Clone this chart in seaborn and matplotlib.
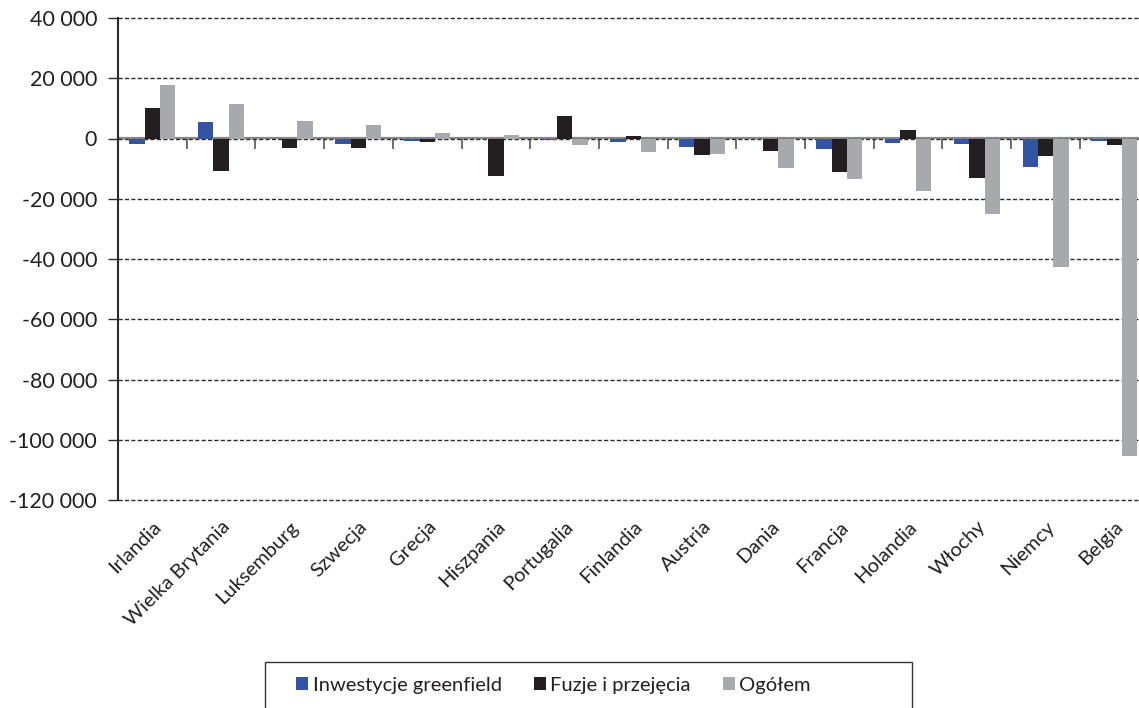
import numpy as np
import pandas as pd
import matplotlib
matplotlib.use("Agg")
import matplotlib.pyplot as plt
from matplotlib.patches import Patch, Rectangle
import seaborn as sns

# Saldo inwestycji w podziale na kraje (mln)
countries = ["Irlandia", "Wielka Brytania", "Luksemburg", "Szwecja", "Grecja",
             "Hiszpania", "Portugalia", "Finlandia", "Austria", "Dania",
             "Francja", "Holandia", "Włochy", "Niemcy", "Belgia"]
greenfield = [-1900, 5600, 0, -1800, -900, 0, -500, -1200, -2700, 0,
              -3400, -1500, -1800, -9400, -700]
fuzje = [10100, -10900, -3100, -3000, -1200, -12500, 7400, 900, -5400, -4300,
         -11200, 2900, -13000, -5800, -2100]
ogolem = [17900, 11300, 5700, 4400, 1900, 1000, -2300, -4500, -5100, -9900,
          -13400, -17500, -24900, -42500, -105300]

series_names = ["Inwestycje greenfield", "Fuzje i przejęcia", "Ogółem"]
series_colors = ["#3353a4", "#231f20", "#a7a9ac"]

y_ticks = [40000, 20000, 0, -20000, -40000, -60000, -80000, -100000, -120000]
y_tick_labels = ["40 000", "20 000", "0", "-20 000", "-40 000", "-60 000",
                 "-80 000", "-100 000", "-120 000"]

df = pd.DataFrame({
    "kraj": countries * 3,
    "seria": [s for s in series_names for _ in countries],
    "wartosc": greenfield + fuzje + ogolem,
})

sns.set_style("white")
plt.rcParams["font.family"] = ["Lato", "DejaVu Sans"]

W, H = 1139, 708
fig = plt.figure(figsize=(W / 100, H / 100), dpi=100)
ax = fig.add_axes([118 / W, 1 - 500 / H, 1 - 118 / W, (500 - 18) / H])

sns.barplot(data=df, x="kraj", y="wartosc", hue="seria", order=countries,
            hue_order=series_names, palette=series_colors, saturation=1,
            width=0.67, linewidth=0, errorbar=None, legend=False, ax=ax,
            zorder=3)

ax.set_xlim(-0.5, 14.36)
ax.set_ylim(-120000, 40000)
ax.set_xlabel("")
ax.set_ylabel("")

ax.set_yticks(y_ticks)
ax.set_yticklabels(y_tick_labels)
ax.yaxis.grid(True, color="#2b2b2b", linestyle=(0, (3, 1.6)), linewidth=1.0)
ax.xaxis.grid(False)
ax.set_axisbelow(True)
for gl in ax.get_ygridlines():
    gl.set_clip_on(False)

for side in ["top", "right", "bottom"]:
    ax.spines[side].set_visible(False)
ax.spines["left"].set_color("#2b2b2b")
ax.spines["left"].set_linewidth(1.5)

ax.tick_params(axis="y", direction="out", length=7, width=1.0, color="#2b2b2b",
               labelsize=15.5, labelcolor="#231f20", pad=8, left=True)
ax.set_xticks(range(len(countries)))
ax.set_xticklabels(countries, rotation=45, ha="right", rotation_mode="anchor")
ax.tick_params(axis="x", length=0, labelsize=14.5, labelcolor="#231f20", pad=13)

# Zero line with category separators
zero_pos = (0 - (-120000)) / (40000 - (-120000))
sec = ax.secondary_xaxis(zero_pos)
sec.set_xticks(np.arange(0.5, len(countries) - 1, 1.0))
sec.xaxis.set_ticks_position("bottom")
sec.tick_params(axis="x", direction="out", length=7, width=1.2,
                color="#555555", labelbottom=False, labeltop=False)
for side in ["top", "bottom"]:
    sec.spines[side].set_color("#8a8a8a")
    sec.spines[side].set_linewidth(1.6)

# Legend
handles = [Patch(facecolor=c, edgecolor="none") for c in series_colors]
fig.legend(handles, series_names, loc="center left",
           bbox_to_anchor=(296 / W, 1 - 685 / H), ncol=3, frameon=False,
           handlelength=0.62, handleheight=0.62, handletextpad=0.2,
           columnspacing=1.6, fontsize=14.5, borderaxespad=0, borderpad=0,
           labelcolor="#231f20")
fig.add_artist(Rectangle((265 / W, 1 - 730 / H), (912 - 265) / W, (730 - 662) / H,
                         transform=fig.transFigure, fill=False,
                         edgecolor="#333333", linewidth=1.0))

fig.savefig("out.png", dpi=100)
